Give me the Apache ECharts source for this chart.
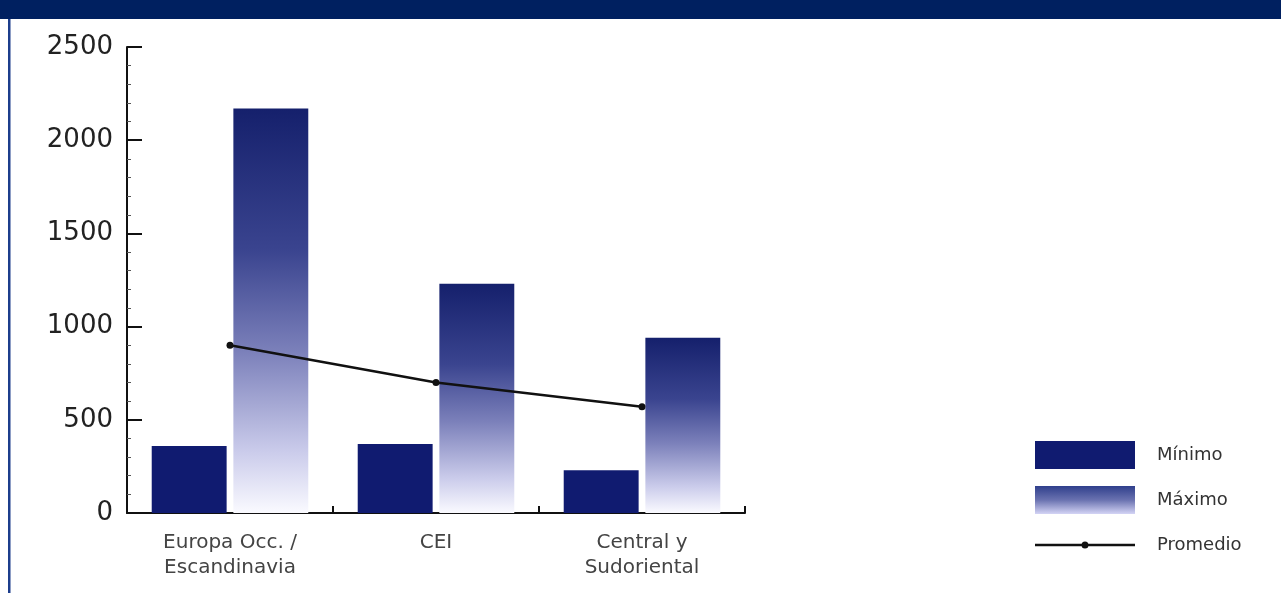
<!DOCTYPE html>
<html>
<head>
<meta charset="utf-8">
<script src="https://cdn.jsdelivr.net/npm/echarts@6/dist/echarts.min.js"></script>
<style>
html,body{margin:0;padding:0;background:#fff;}
#chart{width:1281px;height:593px;}
</style>
</head>
<body>
<div id="chart"></div>
<script>
const categories = ['Europa Occ. /\nEscandinavia', 'CEI', 'Central y\nSudoriental'];
const minimo = [360, 370, 230];
const maximo = [2170, 1230, 940];
const promedio = [900, 700, 570];
const yTicks = [0, 500, 1000, 1500, 2000, 2500];

const chart = echarts.init(document.getElementById('chart'));
const font = 'DejaVu Sans';
const maxGrad = new echarts.graphic.LinearGradient(0, 0, 0, 1, [
  {offset: 0, color: '#15206c'},
  {offset: 0.35, color: '#3a448f'},
  {offset: 0.6, color: '#7b80ba'},
  {offset: 0.85, color: '#cbcceb'},
  {offset: 1, color: '#fafaff'}
]);
const legendGrad = new echarts.graphic.LinearGradient(0, 0, 0, 1, [
  {offset: 0, color: '#2f3f8c'},
  {offset: 0.5, color: '#6a72b0'},
  {offset: 1, color: '#d4d4f5'}
]);
const lineIcon = 'path://M0 0 M100 28 M0 12.8 L46.6 12.8 L46.6 15.2 L0 15.2 Z M53.4 12.8 L100 12.8 L100 15.2 L53.4 15.2 Z M46.5 14 A3.5 3.5 0 1 1 53.5 14 A3.5 3.5 0 1 1 46.5 14 Z';

chart.setOption({
  animation: false,
  backgroundColor: '#fff',
  graphic: [
    {type: 'rect', left: 0, top: 0, shape: {x: 0, y: 0, width: 1281, height: 19}, style: {fill: '#002060'}, z: 10},
    {type: 'rect', left: 8, top: 19, shape: {x: 0, y: 0, width: 2.5, height: 574}, style: {fill: '#1c3d8c'}, z: 10}
  ],
  grid: {left: 127, right: 536, top: 47, bottom: 80, containLabel: false},
  legend: {
    orient: 'vertical',
    left: 1035,
    top: 441,
    padding: 0,
    itemWidth: 100,
    itemHeight: 28,
    itemGap: 17,
    textStyle: {fontFamily: font, fontSize: 18, color: '#333', padding: [0, 0, 0, 17]},
    data: [
      {name: 'Mínimo', icon: 'rect'},
      {name: 'Máximo', icon: 'rect', itemStyle: {color: legendGrad}},
      {name: 'Promedio', icon: lineIcon}
    ]
  },
  xAxis: {
    type: 'category',
    data: categories,
    boundaryGap: true,
    axisLine: {lineStyle: {color: '#111', width: 2}},
    axisTick: {show: true, inside: true, length: 7, lineStyle: {color: '#111', width: 2}},
    axisLabel: {fontFamily: font, fontSize: 20, color: '#444', lineHeight: 25, margin: 17, interval: 0}
  },
  yAxis: {
    type: 'value',
    min: 0,
    max: 2500,
    interval: 500,
    axisLine: {show: true, lineStyle: {color: '#111', width: 2}},
    axisTick: {show: true, inside: true, length: 15, lineStyle: {color: '#111', width: 2}},
    minorTick: {show: true, splitNumber: 5, length: 4, lineStyle: {color: '#555', width: 1}},
    splitLine: {show: false},
    axisLabel: {fontFamily: font, fontSize: 26, color: '#222', margin: 14,
      formatter: v => yTicks.includes(v) ? String(v) : ''}
  },
  series: [
    {
      name: 'Mínimo', type: 'bar', data: minimo,
      barCategoryGap: '24%', barGap: '9%',
      itemStyle: {color: '#101b70'}
    },
    {
      name: 'Máximo', type: 'bar', data: maximo,
      barCategoryGap: '24%', barGap: '9%',
      itemStyle: {color: maxGrad}
    },
    {
      name: 'Promedio', type: 'line', data: promedio,
      symbol: 'circle', symbolSize: 7,
      itemStyle: {color: '#111'},
      lineStyle: {color: '#111', width: 2.5},
      z: 5
    }
  ]
});
</script>
</body>
</html>
